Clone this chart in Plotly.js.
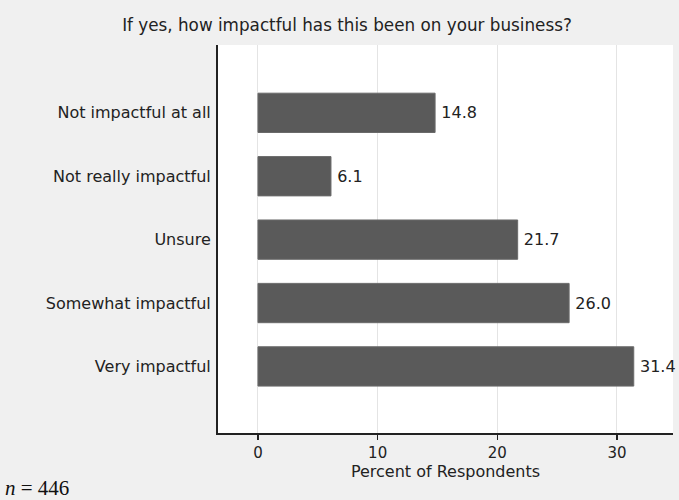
<!DOCTYPE html>
<html>
<head>
<meta charset="utf-8">
<script src="https://cdn.plot.ly/plotly-3.0.1.min.js"></script>
<style>html,body{margin:0;padding:0;background:#f0f0f0;}#chart{width:679px;height:500px;}</style>
</head>
<body>
<div id="chart"></div>
<script>
var categories = ["Not impactful at all", "Not really impactful", "Unsure", "Somewhat impactful", "Very impactful"];
var percents = [14.8, 6.1, 21.7, 26.0, 31.4];
var xTicks = [0, 10, 20, 30];

var FONT = 'DejaVu Sans, Liberation Sans, Arial, sans-serif';

var trace = {
  type: 'bar',
  orientation: 'h',
  y: categories,
  x: percents,
  width: 0.62,
  marker: {color: '#5a5a5a', line: {color: '#6a6a6a', width: 1}},
  text: percents.map(function(v){return '\u2009' + v.toFixed(1);}),
  textposition: 'outside',
  cliponaxis: false,
  textfont: {family: FONT, size: 16, color: '#222'},
  hoverinfo: 'none'
};

var layout = {
  width: 679, height: 500,
  paper_bgcolor: '#f0f0f0',
  plot_bgcolor: '#ffffff',
  margin: {l: 218, r: 6, t: 45, b: 67},
  font: {family: FONT, size: 16, color: '#222'},
  showlegend: false,
  title: {text: 'If yes, how impactful has this been on your business?', x: 0.511, xref: 'container', xanchor: 'center', y: 0.95, yref: 'container', yanchor: 'middle', font: {family: FONT, size: 16.8, color: '#222'}},
  xaxis: {
    range: [-3.34, 34.68],
    tickvals: xTicks,
    ticktext: xTicks.map(String),
    tickfont: {family: FONT, size: 15},
    ticks: 'outside', ticklen: 5, tickcolor: '#222', tickwidth: 1.5,
    showgrid: true, gridcolor: '#e4e4e4', gridwidth: 1,
    zeroline: false,
    showline: true, linecolor: '#222', linewidth: 2,
    title: {text: 'Percent of Respondents', standoff: 0, font: {family: FONT, size: 16}},
    fixedrange: true
  },
  yaxis: {
    type: 'category',
    categoryorder: 'array',
    categoryarray: categories,
    range: [5.05, -1.07],
    ticks: '', showgrid: false, zeroline: false,
    showline: true, linecolor: '#222', linewidth: 2,
    ticklabelstandoff: 2,
    fixedrange: true
  },
  annotations: [{
    xref: 'paper', yref: 'paper', x: -218/455, y: -67/388, xanchor: 'left', yanchor: 'bottom',
    xshift: 3, yshift: -2,
    showarrow: false,
    text: '<i>n</i> = 446',
    font: {family: 'Liberation Serif, Times New Roman, serif', size: 21, color: '#111'}
  }]
};

Plotly.newPlot('chart', [trace], layout, {displayModeBar: false, staticPlot: true});
</script>
</body>
</html>
